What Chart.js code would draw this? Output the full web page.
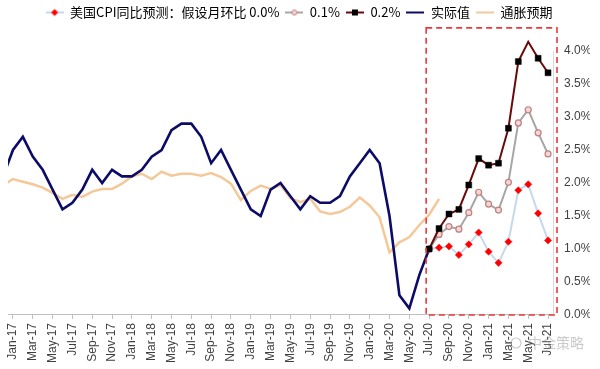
<!DOCTYPE html>
<html>
<head>
<meta charset="utf-8">
<script src="https://cdn.jsdelivr.net/npm/chart.js@4/dist/chart.umd.min.js"></script>
<style>
  html, body { margin: 0; padding: 0; background: #fff; }
  #wrap { width: 600px; height: 369px; position: relative; }
</style>
</head>
<body>
<div id="wrap"><canvas id="cpi"></canvas></div>
<script>
// months (Dec-16 is only there so the line enters from the left edge, like the original)
const months = [
    'Dec-16',
    'Jan-17', 'Feb-17', 'Mar-17', 'Apr-17', 'May-17', 'Jun-17', 'Jul-17', 'Aug-17', 'Sep-17', 'Oct-17', 'Nov-17', 'Dec-17',
    'Jan-18', 'Feb-18', 'Mar-18', 'Apr-18', 'May-18', 'Jun-18', 'Jul-18', 'Aug-18', 'Sep-18', 'Oct-18', 'Nov-18', 'Dec-18',
    'Jan-19', 'Feb-19', 'Mar-19', 'Apr-19', 'May-19', 'Jun-19', 'Jul-19', 'Aug-19', 'Sep-19', 'Oct-19', 'Nov-19', 'Dec-19',
    'Jan-20', 'Feb-20', 'Mar-20', 'Apr-20', 'May-20', 'Jun-20', 'Jul-20', 'Aug-20', 'Sep-20', 'Oct-20', 'Nov-20', 'Dec-20',
    'Jan-21', 'Feb-21', 'Mar-21', 'Apr-21', 'May-21', 'Jun-21', 'Jul-21'
];

// 实际值 (CPI YoY, %), Dec-16 .. Jul-20
const actual = [
    2.1,
    2.5, 2.7, 2.4, 2.2, 1.9, 1.6, 1.7, 1.9, 2.2, 2.0, 2.2, 2.1,
    2.1, 2.2, 2.4, 2.5, 2.8, 2.9, 2.9, 2.7, 2.3, 2.5, 2.2, 1.9,
    1.6, 1.5, 1.9, 2.0, 1.8, 1.6, 1.8, 1.7, 1.7, 1.8, 2.1, 2.3,
    2.5, 2.3, 1.5, 0.3, 0.1, 0.6, 1.0
];

// 通胀预期 (%), Dec-16 .. Aug-20
const expectation = [
    1.96,
    2.06, 2.02, 1.98, 1.93, 1.85, 1.76, 1.82, 1.79, 1.87, 1.91, 1.91, 1.99,
    2.10, 2.14, 2.06, 2.17, 2.11, 2.14, 2.14, 2.11, 2.15, 2.09, 1.99, 1.74,
    1.88, 1.96, 1.91, 1.97, 1.77, 1.71, 1.76, 1.57, 1.53, 1.56, 1.64, 1.78,
    1.66, 1.48, 0.95, 1.10, 1.18, 1.36, 1.52, 1.76
];

// forecast window
const forecastMonths = ['Jul-20', 'Aug-20', 'Sep-20', 'Oct-20', 'Nov-20', 'Dec-20',
    'Jan-21', 'Feb-21', 'Mar-21', 'Apr-21', 'May-21', 'Jun-21', 'Jul-21'];
const mom00 = [1.00, 1.02, 1.04, 0.91, 1.07, 1.25, 0.96, 0.79, 1.11, 1.89, 1.98, 1.54, 1.13];
const mom01 = [1.00, 1.22, 1.34, 1.30, 1.55, 1.86, 1.68, 1.59, 2.01, 2.91, 3.11, 2.76, 2.44];
const mom02 = [1.00, 1.31, 1.53, 1.60, 1.97, 2.37, 2.27, 2.30, 2.83, 3.84, 4.14, 3.89, 3.67];

const shownMonths = /^(Jan|Mar|May|Jul|Sep|Nov)-/;

Chart.defaults.font.family = "'Liberation Sans', Arial, sans-serif";
Chart.defaults.color = '#404040';

function pairs(vals) {
    return forecastMonths.map((m, i) => ({ x: m, y: vals[i] }));
}

// little line + marker pictures for the legend
function legendIcon(lineColor, marker) {
    const c = document.createElement('canvas');
    c.width = 18; c.height = 10;
    const g = c.getContext('2d');
    g.strokeStyle = lineColor;
    g.lineWidth = 2;
    g.beginPath(); g.moveTo(0, 5); g.lineTo(18, 5); g.stroke();
    if (marker === 'diamond') {
        g.fillStyle = '#ff0000';
        g.beginPath(); g.moveTo(9, 1.5); g.lineTo(12.5, 5); g.lineTo(9, 8.5); g.lineTo(5.5, 5); g.closePath(); g.fill();
    } else if (marker === 'circle') {
        g.fillStyle = '#f6d5d5'; g.strokeStyle = '#c08080'; g.lineWidth = 1;
        g.beginPath(); g.arc(9, 5, 2.5, 0, Math.PI * 2); g.fill(); g.stroke();
    } else if (marker === 'square') {
        g.fillStyle = '#000';
        g.fillRect(6, 2, 6, 6);
    }
    return c;
}

const legendItems = [
    { text: '美国CPI同比预测：假设月环比 0.0%', icon: legendIcon('#c5d9ee', 'diamond'), ds: 0 },
    { text: '0.1%', icon: legendIcon('#a6a6a6', 'circle'), ds: 1 },
    { text: '0.2%', icon: legendIcon('#6b0a0a', 'square'), ds: 2 },
    { text: '实际值', icon: legendIcon('#0c0c68'), ds: 3 },
    { text: '通胀预期', icon: legendIcon('#f5c89a'), ds: 4 }
];

// dashed red box around the forecast window + watermark
const forecastBox = {
    id: 'forecastBox',
    afterDatasetsDraw(chart) {
        const { ctx, chartArea, scales: { x, y } } = chart;
        const step = x.getPixelForValue(1) - x.getPixelForValue(0);
        const left = x.getPixelForValue(months.indexOf('Jul-20')) - step * 0.3;
        const right = chartArea.right + 4;
        const top = y.getPixelForValue(4.35);
        const bottom = y.getPixelForValue(0);
        ctx.save();
        ctx.strokeStyle = '#e8383d';
        ctx.lineWidth = 1.6;
        ctx.setLineDash([6, 4]);
        ctx.strokeRect(left, top, right - left, bottom - top);
        ctx.restore();
    },
    afterDraw(chart) {
        const { ctx } = chart;
        ctx.save();
        ctx.globalAlpha = 0.45;
        ctx.fillStyle = '#8c8c8c';
        ctx.font = "14px 'Noto Sans CJK SC'";
        ctx.textBaseline = 'middle';
        ctx.fillText('中金策略', 528, 343);
        ctx.strokeStyle = '#8c8c8c';
        ctx.lineWidth = 1.2;
        ctx.beginPath(); ctx.arc(516, 343, 5, 0, Math.PI * 2); ctx.stroke();
        ctx.restore();
    }
};

// push the plot below the legend
const legendGap = {
    id: 'legendGap',
    beforeInit(chart) {
        const fit = chart.legend.fit;
        chart.legend.fit = function () {
            fit.bind(chart.legend)();
            this.height += 22;
        };
    }
};

new Chart(document.getElementById('cpi'), {
    type: 'line',
    data: {
        labels: months,
        datasets: [
            {
                label: '0.0%',
                data: pairs(mom00),
                borderColor: '#c5d9ee',
                borderWidth: 2,
                pointStyle: 'rectRot',
                pointRadius: 3.6,
                pointBackgroundColor: '#ff0000',
                pointBorderColor: '#ff0000',
                pointBorderWidth: 0.5,
                order: 2,
                clip: false
            },
            {
                label: '0.1%',
                data: pairs(mom01),
                borderColor: '#a6a6a6',
                borderWidth: 2,
                pointStyle: 'circle',
                pointRadius: 3,
                pointBackgroundColor: '#f6d5d5',
                pointBorderColor: '#c08080',
                pointBorderWidth: 1.2,
                order: 1,
                clip: false
            },
            {
                label: '0.2%',
                data: pairs(mom02),
                borderColor: '#6b0a0a',
                borderWidth: 2,
                pointStyle: 'rect',
                pointRadius: 4.2,
                pointBackgroundColor: '#000',
                pointBorderColor: '#000',
                pointBorderWidth: 0.5,
                order: 0,
                clip: false
            },
            {
                label: '实际值',
                data: actual,
                borderColor: '#0c0c68',
                borderWidth: 2.6,
                pointRadius: 0,
                order: 3
            },
            {
                label: '通胀预期',
                data: expectation,
                borderColor: '#f5c89a',
                borderWidth: 2.5,
                pointRadius: 0,
                order: 4
            }
        ]
    },
    options: {
        responsive: true,
        maintainAspectRatio: false,
        animation: false,
        events: [],
        layout: { padding: { left: 8, right: 10, top: 0, bottom: 2 } },
        scales: {
            x: {
                type: 'category',
                min: 'Jan-17',
                offset: true,
                grid: {
                    display: true,
                    drawOnChartArea: false,
                    drawTicks: true,
                    tickLength: 4,
                    color: (c) => (c.index % 2 === 0 ? '#bfbfbf' : 'rgba(0,0,0,0)')
                },
                border: { display: true, color: '#bfbfbf', width: 1 },
                ticks: {
                    autoSkip: false,
                    maxRotation: 90,
                    minRotation: 90,
                    padding: 4,
                    font: { size: 12 },
                    color: '#404040',
                    callback: function (v) {
                        const l = this.getLabelForValue(v);
                        return shownMonths.test(l) ? l : '';
                    }
                }
            },
            y: {
                position: 'right',
                min: 0,
                max: 4.0,
                grid: { display: false, drawTicks: false },
                border: { display: true, color: '#d9d9d9', width: 1 },
                afterFit: (s) => { s.width = 37; },
                ticks: {
                    stepSize: 0.5,
                    padding: 11,
                    font: { size: 12 },
                    color: '#404040',
                    callback: (v) => v.toFixed(1) + '%'
                }
            }
        },
        plugins: {
            legend: {
                position: 'top',
                align: 'center',
                labels: {
                    usePointStyle: true,
                    pointStyleWidth: 18,
                    padding: 6,
                    font: { size: 13, family: "'Noto Sans CJK SC', 'Liberation Sans', sans-serif" },
                    color: '#333',
                    generateLabels: () => legendItems.map(it => ({
                        text: it.text,
                        pointStyle: it.icon,
                        fillStyle: 'rgba(0,0,0,0)',
                        strokeStyle: 'rgba(0,0,0,0)',
                        lineWidth: 0,
                        hidden: false,
                        datasetIndex: it.ds
                    }))
                }
            },
            tooltip: { enabled: false }
        }
    },
    plugins: [legendGap, forecastBox]
});
</script>
</body>
</html>
